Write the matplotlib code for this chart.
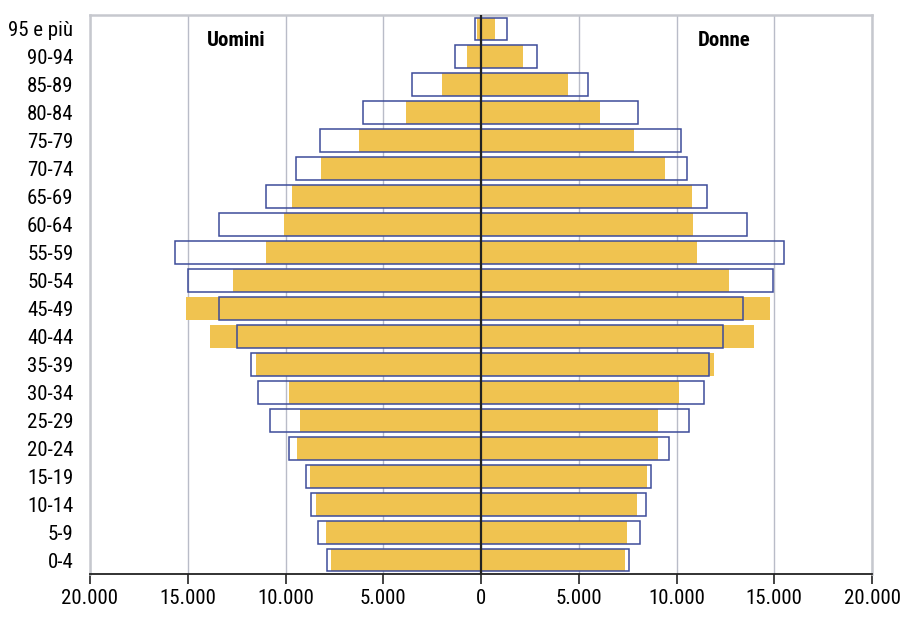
import matplotlib.pyplot as plt
import matplotlib as mpl
import numpy as np

mpl.style.use("default")
plt.rcParams['font.family'] = ['Roboto Condensed', 'IBM Plex Sans Condensed', 'DejaVu Sans']

age_groups = ["0-4", "5-9", "10-14", "15-19", "20-24", "25-29", "30-34", "35-39",
              "40-44", "45-49", "50-54", "55-59", "60-64", "65-69", "70-74",
              "75-79", "80-84", "85-89", "90-94", "95 e più"]

# filled bars (yellow)
men_fill = [7670, 7945, 8440, 8745, 9395, 9260, 9820, 11510, 13880, 15070,
            12685, 11015, 10095, 9670, 8185, 6240, 3850, 2010, 730, 190]
women_fill = [7380, 7485, 7980, 8505, 9070, 9070, 10145, 11900, 13965, 14800,
              12670, 11065, 10845, 10790, 9430, 7810, 6085, 4450, 2150, 715]

# outlined bars (hollow)
men_outline = [7895, 8355, 8710, 8950, 9840, 10790, 11390, 11780, 12465, 13420,
               14970, 15650, 13420, 11000, 9480, 8235, 6050, 3530, 1315, 320]
women_outline = [7585, 8130, 8455, 8695, 9600, 10620, 11390, 11680, 12395, 13385,
                 14950, 15500, 13590, 11545, 10520, 10215, 8050, 5455, 2865, 1315]

xticks = [-20000, -15000, -10000, -5000, 0, 5000, 10000, 15000, 20000]
xtick_labels = ["20.000", "15.000", "10.000", "5.000", "0", "5.000", "10.000", "15.000", "20.000"]

yellow = "#F0C350"
navy = "#3D4C9A"

fig = plt.figure(figsize=(9.01, 6.19), dpi=100)
ax = fig.add_axes([90 / 901, 45 / 619, 782 / 901, 559 / 619])

y = np.arange(len(age_groups))
h = 0.82
ax.barh(y, -np.array(men_fill), height=h, color=yellow, zorder=2)
ax.barh(y, women_fill, height=h, color=yellow, zorder=2)
ax.barh(y, -np.array(men_outline), height=h, facecolor="none", edgecolor=navy, linewidth=1.1, zorder=3)
ax.barh(y, women_outline, height=h, facecolor="none", edgecolor=navy, linewidth=1.1, zorder=3)

ax.axvline(0, color="#222222", linewidth=1.6, zorder=4)

ax.set_xlim(-20000, 20000)
ax.set_ylim(-0.5, len(age_groups) - 0.5)
ax.set_xticks(xticks)
ax.set_xticklabels(xtick_labels, fontsize=15)
ax.set_yticks(y)
ax.set_yticklabels(age_groups, fontsize=15)
ax.tick_params(axis="y", length=0, pad=12)
ax.tick_params(axis="x", direction="out", length=7, width=1.2, color="#222222", pad=4)

ax.grid(axis="x", color="#B9BCC8", linewidth=1.0, zorder=0)
ax.set_axisbelow(True)
for side in ["left", "right", "top"]:
    ax.spines[side].set_color("#C6C8CE")
    ax.spines[side].set_linewidth(1.8)
ax.spines["bottom"].set_color("#222222")
ax.spines["bottom"].set_linewidth(1.3)

ax.text(-12500, 18.6, "Uomini", fontsize=15, fontweight="bold", ha="center", va="center")
ax.text(12450, 18.6, "Donne", fontsize=15, fontweight="bold", ha="center", va="center")

fig.savefig("out.png", dpi=100)
